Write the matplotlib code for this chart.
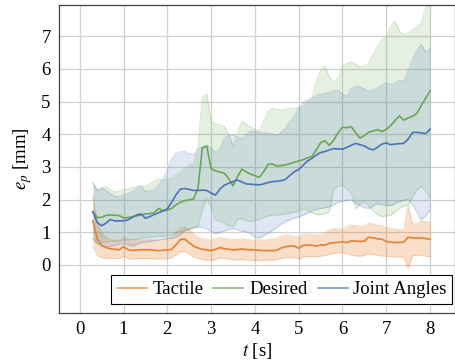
import numpy as np
import matplotlib
matplotlib.use("Agg")
import matplotlib.pyplot as plt

# time axis [s]
t = [0.3, 0.4, 0.5, 0.6, 0.7, 0.8, 0.9, 1.0, 1.1, 1.2, 1.3, 1.4, 1.5, 1.6, 1.7, 1.8, 1.9, 2.0,
     2.1, 2.2, 2.3, 2.4, 2.5, 2.6, 2.7, 2.8, 2.9, 3.0, 3.1, 3.2, 3.3, 3.4, 3.5, 3.6, 3.7, 3.8,
     3.9, 4.0, 4.1, 4.2, 4.3, 4.4, 4.5, 4.6, 4.7, 4.8, 4.9, 5.0, 5.1, 5.2, 5.3, 5.4, 5.5, 5.6,
     5.7, 5.8, 5.9, 6.0, 6.1, 6.2, 6.3, 6.4, 6.5, 6.6, 6.7, 6.8, 6.9, 7.0, 7.1, 7.2, 7.3, 7.4,
     7.5, 7.6, 7.7, 7.8, 7.9, 8.0]

# Tactile
tactile_mean = [1.35, 0.80, 0.60, 0.53, 0.50, 0.48, 0.46, 0.56, 0.47, 0.44, 0.46, 0.47, 0.46, 0.47, 0.45, 0.44, 0.45, 0.46,
                0.48, 0.62, 0.78, 0.79, 0.68, 0.58, 0.52, 0.48, 0.46, 0.44, 0.48, 0.53, 0.50, 0.48, 0.46, 0.47, 0.49, 0.47,
                0.46, 0.46, 0.45, 0.44, 0.44, 0.44, 0.45, 0.52, 0.56, 0.58, 0.58, 0.51, 0.60, 0.61, 0.60, 0.58, 0.61, 0.61,
                0.66, 0.68, 0.69, 0.71, 0.68, 0.74, 0.73, 0.72, 0.73, 0.85, 0.83, 0.80, 0.79, 0.72, 0.70, 0.69, 0.69, 0.70,
                0.85, 0.83, 0.82, 0.83, 0.81, 0.78]
tactile_hi = [2.10, 1.30, 1.00, 0.85, 0.78, 0.76, 0.75, 0.85, 0.78, 0.76, 0.77, 0.77, 0.76, 0.77, 0.76, 0.75, 0.77, 0.80,
              0.85, 1.02, 1.15, 1.17, 1.08, 0.95, 0.85, 0.80, 0.79, 0.77, 0.80, 0.84, 0.82, 0.80, 0.78, 0.78, 0.80, 0.78,
              0.77, 0.76, 0.77, 0.76, 0.78, 0.80, 0.82, 0.88, 0.92, 0.90, 0.87, 0.86, 0.94, 0.95, 0.93, 0.92, 0.95, 0.97,
              1.08, 1.12, 1.10, 1.09, 1.18, 1.22, 1.20, 1.19, 1.20, 1.29, 1.26, 1.22, 1.20, 1.14, 1.12, 1.10, 1.09, 1.10,
              1.83, 1.25, 1.28, 1.35, 1.33, 1.32]
tactile_lo = [0.55, 0.30, 0.22, 0.21, 0.20, 0.20, 0.19, 0.27, 0.19, 0.18, 0.19, 0.20, 0.19, 0.20, 0.19, 0.18, 0.19, 0.20,
              0.22, 0.32, 0.41, 0.41, 0.33, 0.24, 0.20, 0.17, 0.15, 0.14, 0.17, 0.21, 0.20, 0.18, 0.16, 0.15, 0.17, 0.15,
              0.14, 0.13, 0.14, 0.14, 0.15, 0.15, 0.16, 0.20, 0.22, 0.23, 0.22, 0.18, 0.25, 0.26, 0.26, 0.25, 0.27, 0.29,
              0.33, 0.35, 0.37, 0.38, 0.34, 0.30, 0.28, 0.27, 0.30, 0.34, 0.33, 0.30, 0.28, 0.27, 0.26, 0.25, 0.24, 0.23,
              -0.10, 0.28, 0.30, 0.30, 0.27, 0.25]

# Desired
desired_mean = [1.63, 1.45, 1.46, 1.52, 1.53, 1.52, 1.51, 1.44, 1.45, 1.48, 1.50, 1.53, 1.56, 1.57, 1.60, 1.73, 1.66, 1.68,
                1.73, 1.84, 1.92, 1.97, 1.99, 2.02, 2.35, 3.58, 3.64, 2.95, 2.88, 2.84, 2.81, 2.65, 2.42, 2.70, 2.93, 2.85,
                2.78, 2.73, 2.68, 2.85, 3.08, 3.09, 3.03, 3.04, 3.06, 3.10, 3.14, 3.18, 3.22, 3.28, 3.32, 3.52, 3.74, 3.80,
                3.66, 3.82, 4.05, 4.21, 4.20, 4.23, 4.05, 3.88, 3.96, 4.06, 4.10, 4.14, 4.08, 4.15, 4.26, 4.42, 4.56, 4.43,
                4.50, 4.55, 4.64, 4.88, 5.10, 5.33]
desired_hi = [2.50, 2.30, 2.35, 2.40, 2.30, 2.24, 2.26, 2.30, 2.33, 2.37, 2.40, 2.41, 2.42, 2.48, 2.57, 2.64, 2.60, 2.62,
              2.68, 2.75, 2.83, 2.95, 3.06, 3.10, 3.60, 5.15, 5.23, 4.40, 4.32, 4.28, 4.24, 4.00, 3.64, 4.05, 4.40, 4.30,
              4.22, 4.15, 4.11, 4.40, 4.70, 4.79, 4.76, 4.74, 4.77, 4.79, 4.80, 4.81, 4.85, 5.00, 5.08, 5.60, 5.95, 6.09,
              5.75, 5.60, 5.70, 6.10, 6.16, 6.22, 6.15, 6.06, 6.10, 6.17, 6.45, 6.70, 6.88, 6.96, 7.30, 7.45, 7.15, 7.03,
              7.10, 7.20, 7.30, 7.40, 7.85, 8.05]
desired_lo = [0.82, 0.66, 0.68, 0.71, 0.72, 0.73, 0.74, 0.76, 0.77, 0.78, 0.79, 0.81, 0.83, 0.85, 0.86, 0.87, 0.88, 0.90,
              0.92, 0.98, 1.02, 1.06, 1.09, 1.13, 1.17, 1.70, 2.04, 1.75, 1.38, 1.34, 1.28, 1.20, 1.17, 1.40, 1.42, 1.35,
              1.33, 1.36, 1.40, 1.45, 1.50, 1.52, 1.53, 1.54, 1.56, 1.58, 1.62, 1.64, 1.72, 1.68, 1.60, 1.54, 1.54, 1.56,
              1.63, 2.30, 2.42, 2.44, 2.31, 2.22, 1.72, 1.85, 1.94, 1.80, 1.65, 1.55, 1.48, 1.50, 1.53, 1.62, 1.73, 1.80,
              1.84, 2.09, 2.30, 2.40, 2.25, 2.04]

# Joint Angles
joint_mean = [1.63, 1.30, 1.20, 1.28, 1.39, 1.35, 1.35, 1.35, 1.38, 1.45, 1.53, 1.56, 1.43, 1.48, 1.54, 1.60, 1.65, 1.72,
              1.92, 2.15, 2.32, 2.34, 2.31, 2.28, 2.28, 2.29, 2.28, 2.20, 2.14, 2.32, 2.44, 2.50, 2.55, 2.60, 2.54, 2.48,
              2.47, 2.46, 2.45, 2.48, 2.52, 2.55, 2.56, 2.58, 2.62, 2.74, 2.85, 2.92, 3.05, 3.18, 3.26, 3.36, 3.44, 3.47,
              3.52, 3.56, 3.55, 3.54, 3.60, 3.66, 3.72, 3.68, 3.64, 3.56, 3.52, 3.60, 3.70, 3.73, 3.68, 3.70, 3.71, 3.72,
              3.85, 4.05, 4.06, 4.04, 4.02, 4.15]
joint_hi = [2.55, 2.26, 2.36, 2.28, 2.18, 2.10, 2.08, 2.13, 2.18, 2.25, 2.33, 2.42, 2.24, 2.27, 2.30, 2.45, 2.62, 2.90,
            3.25, 3.43, 3.46, 3.47, 3.40, 3.38, 3.55, 3.62, 3.66, 3.58, 3.45, 3.55, 3.88, 3.96, 3.98, 3.92, 3.87, 3.98,
            4.10, 4.08, 4.05, 4.04, 4.03, 4.00, 3.95, 4.05, 4.18, 4.40, 4.55, 4.80, 4.98, 5.05, 5.10, 5.18, 5.22, 5.25,
            5.28, 5.33, 5.35, 5.22, 5.15, 5.40, 5.47, 5.45, 5.38, 5.32, 5.35, 5.42, 5.50, 5.57, 5.53, 5.55, 5.65, 5.62,
            5.95, 6.30, 6.55, 6.75, 6.50, 6.62]
joint_lo = [0.79, 0.65, 0.58, 0.56, 0.57, 0.60, 0.63, 0.66, 0.62, 0.58, 0.63, 0.68, 0.70, 0.72, 0.74, 0.76, 0.79, 0.80,
            0.82, 0.85, 0.92, 1.05, 1.10, 1.15, 1.17, 1.15, 1.10, 1.02, 0.95, 1.00, 1.04, 1.08, 1.12, 1.08, 1.03, 1.02,
            0.95, 0.85, 0.82, 0.90, 0.97, 1.05, 1.15, 1.25, 1.33, 1.38, 1.43, 1.47, 1.52, 1.58, 1.65, 1.70, 1.73, 1.75,
            1.78, 1.84, 1.92, 1.95, 1.98, 1.99, 1.89, 1.82, 1.75, 1.73, 1.80, 1.88, 1.85, 1.82, 1.81, 1.88, 1.94, 1.98,
            2.01, 1.85, 1.60, 1.38, 1.50, 1.68]

labels = ["Tactile", "Desired", "Joint Angles"]
colors = ["#e8802c", "#6aa84f", "#4a74bb"]
fill_alpha = [0.25, 0.17, 0.17]

plt.rcParams["font.family"] = "Liberation Serif"
plt.rcParams["mathtext.fontset"] = "stix"
plt.rcParams["font.size"] = 13.5

fig = plt.figure(figsize=(4.55, 3.62), dpi=100)
ax = fig.add_axes([0.1297, 0.1354, 0.8713, 0.8506])

series = [(tactile_mean, tactile_lo, tactile_hi),
          (desired_mean, desired_lo, desired_hi),
          (joint_mean, joint_lo, joint_hi)]

for (m, lo, hi), c, a in zip(series, colors, fill_alpha):
    ax.fill_between(t, lo, hi, color=c, alpha=a, linewidth=0)
    ax.plot(t, lo, color=c, alpha=0.25, linewidth=0.8)
    ax.plot(t, hi, color=c, alpha=0.25, linewidth=0.8)
for (m, lo, hi), lab, c in zip(series, labels, colors):
    ax.plot(t, m, color=c, linewidth=1.2, label=lab)

ax.set_xlim(-0.473, 8.58)
ax.set_ylim(-1.468, 7.95)
ax.set_xticks(range(0, 9))
ax.set_yticks(range(0, 8))
ax.grid(True, color="#d0d0d0", linewidth=0.9)
ax.set_axisbelow(True)
ax.tick_params(length=0, pad=6)
for s in ax.spines.values():
    s.set_color("#404040")
    s.set_linewidth(0.9)

ax.set_xlabel(r"$t$ [s]", labelpad=2)
ax.set_ylabel(r"$e_p$ [mm]", labelpad=5)

leg = ax.legend(loc="lower right", bbox_to_anchor=(0.992, 0.03), ncol=3,
                borderaxespad=0, fancybox=False, framealpha=1, edgecolor="black",
                handlelength=1.6, handletextpad=0.3, columnspacing=0.55,
                borderpad=0.3)
leg.get_frame().set_linewidth(0.8)
for h in leg.get_lines():
    h.set_alpha(0.75)

fig.savefig("out.png", dpi=100)
